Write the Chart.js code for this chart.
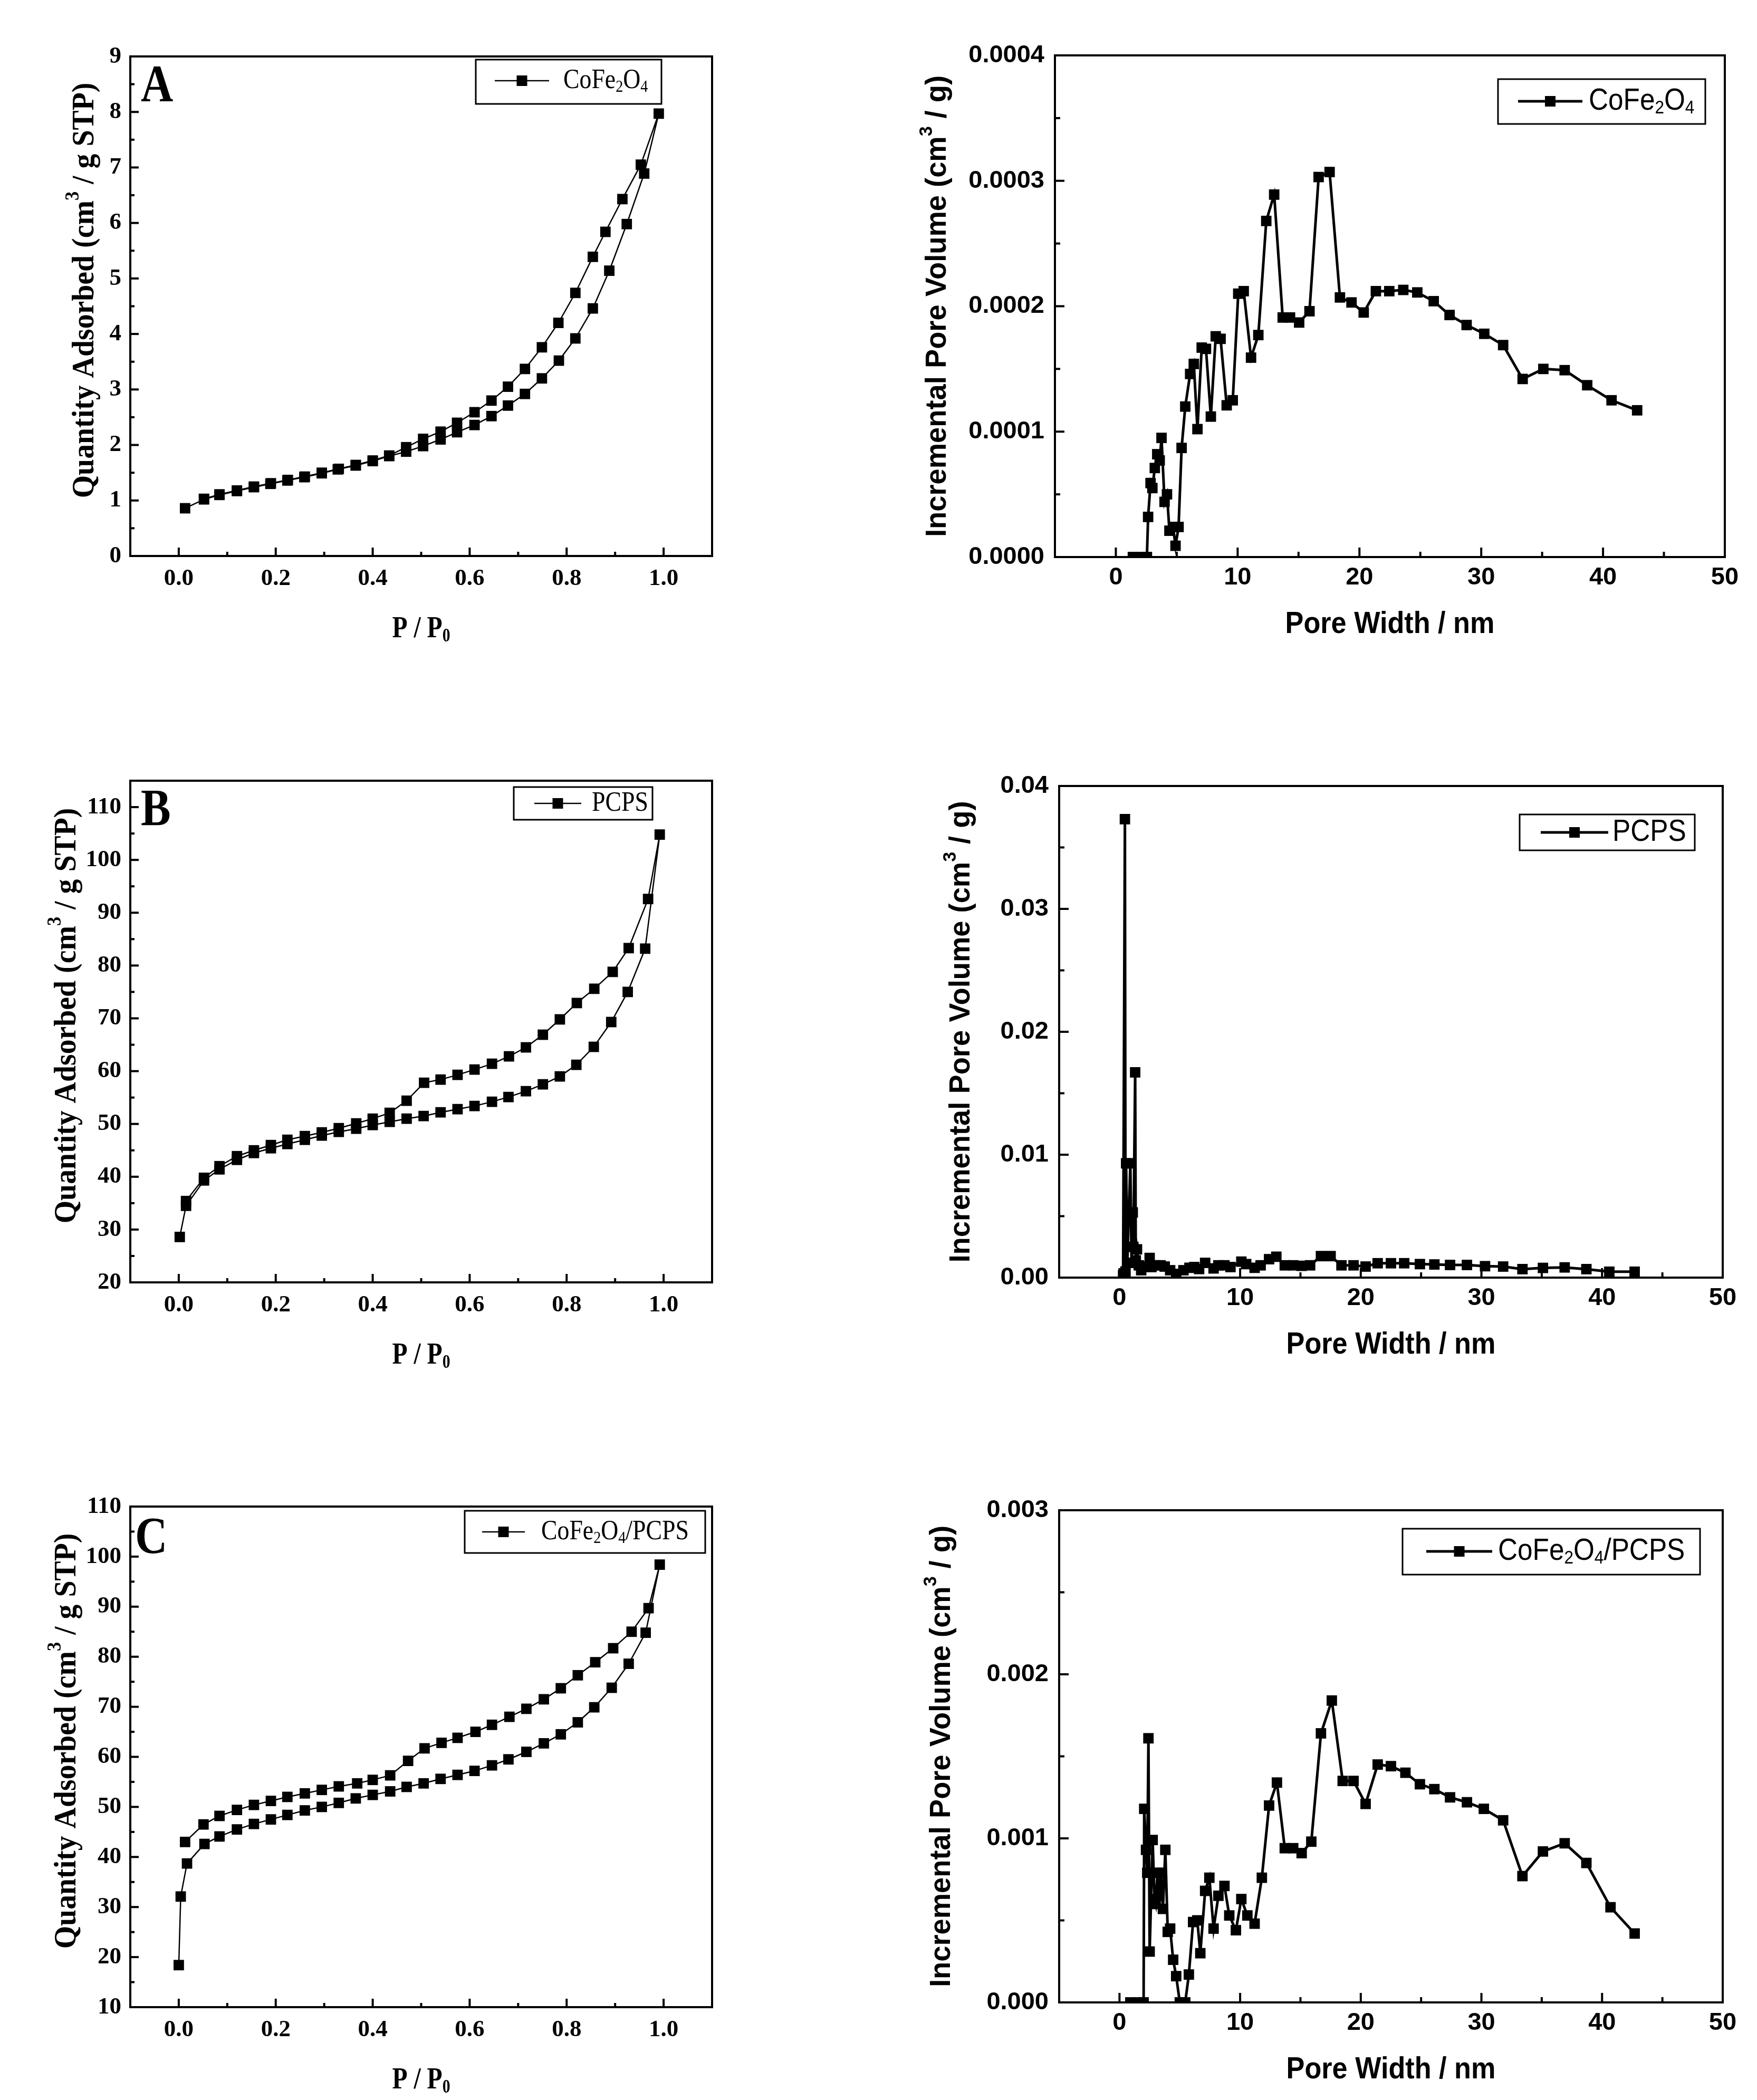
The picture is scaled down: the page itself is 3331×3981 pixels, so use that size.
<!DOCTYPE html>
<html>
<head>
<meta charset="utf-8">
<script src="https://cdn.jsdelivr.net/npm/chart.js@4.4.1/dist/chart.umd.min.js"></script>
<style>
html, body { margin: 0; padding: 0; background: #fff; }
#page { position: relative; width: 3331px; height: 3981px; background: #fff; }
canvas { position: absolute; }
</style>
</head>
<body>
<div id="page"></div>
<script>
// ---- isotherms: P/P0 vs quantity adsorbed (cm3/g STP) ----
// adsorption branch going up, desorption branch coming back down
const aAdsP = [0.013, 0.052, 0.084, 0.12, 0.155, 0.189, 0.224, 0.259, 0.295, 0.328, 0.365, 0.40, 0.434, 0.469, 0.504, 0.54, 0.574, 0.61, 0.645, 0.679, 0.714, 0.749, 0.784, 0.818, 0.854, 0.888, 0.924, 0.96, 0.99];
const aAdsQ = [0.86, 1.02, 1.10, 1.17, 1.24, 1.30, 1.36, 1.42, 1.49, 1.56, 1.63, 1.71, 1.80, 1.88, 1.98, 2.10, 2.23, 2.36, 2.52, 2.71, 2.92, 3.20, 3.52, 3.92, 4.46, 5.14, 5.98, 6.89, 7.97];
const aDesP = [0.953, 0.915, 0.88, 0.854, 0.818, 0.783, 0.749, 0.714, 0.679, 0.645, 0.61, 0.574, 0.54, 0.504, 0.469, 0.434, 0.40, 0.365, 0.33, 0.295, 0.26, 0.225, 0.19, 0.155, 0.12, 0.084, 0.052];
const aDesQ = [7.05, 6.43, 5.84, 5.39, 4.74, 4.20, 3.76, 3.37, 3.05, 2.80, 2.59, 2.40, 2.24, 2.11, 1.96, 1.81, 1.72, 1.64, 1.57, 1.50, 1.43, 1.37, 1.31, 1.25, 1.18, 1.11, 1.03];

const bAdsP = [0.002, 0.015, 0.052, 0.084, 0.12, 0.155, 0.19, 0.224, 0.26, 0.295, 0.33, 0.366, 0.40, 0.435, 0.47, 0.505, 0.54, 0.575, 0.61, 0.646, 0.68, 0.716, 0.751, 0.786, 0.82, 0.856, 0.892, 0.926, 0.962, 0.992];
const bAdsQ = [28.6, 34.5, 39.3, 41.4, 43.2, 44.5, 45.4, 46.2, 47.0, 47.8, 48.5, 49.1, 49.8, 50.4, 51.0, 51.5, 52.2, 52.8, 53.4, 54.2, 55.1, 56.2, 57.5, 59.0, 61.2, 64.6, 69.3, 75.0, 83.2, 104.8];
const bDesP = [0.968, 0.928, 0.895, 0.857, 0.821, 0.786, 0.751, 0.716, 0.681, 0.646, 0.61, 0.575, 0.54, 0.506, 0.47, 0.435, 0.40, 0.366, 0.33, 0.295, 0.26, 0.224, 0.19, 0.155, 0.12, 0.084, 0.052, 0.015];
const bDesQ = [92.6, 83.3, 78.8, 75.6, 72.9, 69.8, 66.9, 64.5, 62.8, 61.4, 60.3, 59.3, 58.4, 57.8, 54.4, 52.1, 51.0, 50.1, 49.2, 48.4, 47.7, 47.0, 46.0, 45.0, 43.9, 42.0, 39.8, 35.4];

const cAdsP = [0.0, 0.004, 0.017, 0.053, 0.084, 0.12, 0.155, 0.19, 0.224, 0.26, 0.295, 0.33, 0.365, 0.40, 0.436, 0.47, 0.505, 0.54, 0.575, 0.61, 0.646, 0.68, 0.717, 0.753, 0.788, 0.823, 0.857, 0.893, 0.928, 0.963, 0.992];
const cAdsQ = [18.4, 32.1, 38.7, 42.6, 44.1, 45.5, 46.6, 47.5, 48.4, 49.3, 50.0, 50.8, 51.7, 52.4, 53.1, 54.0, 54.7, 55.6, 56.4, 57.2, 58.3, 59.5, 61.0, 62.7, 64.5, 66.9, 69.9, 73.8, 78.6, 84.8, 98.4];
const cDesP = [0.969, 0.934, 0.896, 0.859, 0.823, 0.788, 0.753, 0.717, 0.682, 0.646, 0.612, 0.575, 0.542, 0.507, 0.473, 0.436, 0.40, 0.368, 0.33, 0.295, 0.26, 0.224, 0.19, 0.155, 0.12, 0.084, 0.051, 0.013];
const cDesQ = [89.7, 85.0, 81.7, 78.9, 76.3, 73.7, 71.5, 69.6, 68.0, 66.4, 65.0, 63.8, 62.8, 61.7, 59.2, 56.3, 55.4, 54.7, 54.1, 53.4, 52.7, 52.0, 51.2, 50.4, 49.4, 48.2, 46.5, 43.0];

// ---- pore size distributions: pore width (nm) vs incremental pore volume (cm3/g) ----
const aWidth = [1.4, 2.0, 2.55, 2.65, 2.85, 3.0, 3.2, 3.4, 3.6, 3.75, 4.0, 4.2, 4.4, 4.7, 4.9, 5.15, 5.4, 5.7, 6.1, 6.4, 6.7, 7.05, 7.4, 7.8, 8.2, 8.6, 9.1, 9.6, 10.05, 10.5, 11.1, 11.7, 12.35, 13.0, 13.7, 14.3, 15.05, 15.9, 16.65, 17.55, 18.4, 19.35, 20.35, 21.35, 22.45, 23.6, 24.75, 26.1, 27.4, 28.8, 30.25, 31.8, 33.4, 35.1, 36.85, 38.7, 40.7, 42.8];
const aVol = [0, 0, 0, 0.000032, 0.000059, 0.000055, 0.000071, 0.000082, 0.000077, 0.000095, 0.000044, 0.000050, 0.000021, 0.000024, 0.000009, 0.000024, 0.000087, 0.000120, 0.000146, 0.000154, 0.000102, 0.000167, 0.000166, 0.000112, 0.000176, 0.000174, 0.000121, 0.000125, 0.000210, 0.000212, 0.000159, 0.000177, 0.000268, 0.000289, 0.000191, 0.000191, 0.000187, 0.000196, 0.000303, 0.000307, 0.000207, 0.000203, 0.000195, 0.000212, 0.000212, 0.000213, 0.000211, 0.000204, 0.000193, 0.000185, 0.000178, 0.000169, 0.000142, 0.000150, 0.000149, 0.000137, 0.000125, 0.000117];

const bWidth = [0.3, 0.45, 0.5, 0.55, 0.65, 0.9, 0.95, 1.0, 1.1, 1.15, 1.3, 1.35, 1.45, 1.6, 1.8, 2.1, 2.5, 2.65, 3.0, 3.4, 3.75, 4.2, 4.7, 5.3, 5.8, 6.2, 6.6, 7.1, 7.8, 8.2, 8.7, 9.2, 10.1, 10.5, 11.2, 11.7, 12.4, 13.0, 13.7, 14.4, 15.1, 15.8, 16.7, 17.5, 18.4, 19.4, 20.4, 21.4, 22.5, 23.6, 24.9, 26.1, 27.4, 28.8, 30.3, 31.8, 33.4, 35.1, 36.9, 38.7, 40.6, 42.7];
const bVol = [0.0002, 0.0373, 0.0005, 0.0093, 0.0012, 0.0093, 0.0053, 0.0012, 0.0053, 0.0025, 0.0167, 0.0014, 0.0023, 0.0010, 0.0006, 0.0009, 0.0016, 0.00086, 0.0010, 0.0010, 0.0009, 0.0006, 0.0003, 0.0006, 0.0008, 0.00086, 0.0007, 0.0012, 0.00075, 0.0010, 0.0010, 0.00086, 0.0013, 0.0011, 0.0008, 0.0010, 0.0015, 0.0017, 0.0010, 0.0010, 0.00096, 0.0010, 0.00175, 0.00175, 0.0010, 0.0010, 0.0009, 0.00117, 0.00117, 0.00117, 0.0011, 0.00107, 0.00103, 0.00103, 0.00093, 0.0009, 0.00069, 0.00079, 0.00083, 0.00069, 0.00048, 0.00048];

const cWidth = [0.9, 1.45, 2.0, 2.05, 2.2, 2.3, 2.4, 2.5, 2.75, 2.9, 3.0, 3.15, 3.3, 3.45, 3.6, 3.8, 4.0, 4.2, 4.45, 4.7, 5.0, 5.45, 5.75, 6.1, 6.45, 6.7, 7.1, 7.45, 7.8, 8.2, 8.7, 9.1, 9.65, 10.1, 10.6, 11.2, 11.8, 12.4, 13.05, 13.7, 14.4, 15.1, 15.9, 16.7, 17.6, 18.5, 19.4, 20.4, 21.4, 22.5, 23.7, 24.9, 26.1, 27.4, 28.8, 30.2, 31.8, 33.4, 35.1, 36.9, 38.7, 40.7, 42.7];
const cVol = [0, 0, 0, 0.00118, 0.00093, 0.00079, 0.00161, 0.00031, 0.00099, 0.00063, 0.00060, 0.00079, 0.00065, 0.00079, 0.00057, 0.00093, 0.00043, 0.00045, 0.00026, 0.00016, 0, 0, 0.00017, 0.00049, 0.00050, 0.00030, 0.00068, 0.00076, 0.00045, 0.00065, 0.00071, 0.00053, 0.00044, 0.00063, 0.00053, 0.00048, 0.00076, 0.00120, 0.00134, 0.00094, 0.00094, 0.00091, 0.00098, 0.00164, 0.00184, 0.00135, 0.00135, 0.00121, 0.00145, 0.00144, 0.00140, 0.00133, 0.00130, 0.00125, 0.00122, 0.00118, 0.00111, 0.00077, 0.00092, 0.00097, 0.00085, 0.00058, 0.00042];

// ---- tick labels ----
const pTicks = [0, 0.2, 0.4, 0.6, 0.8, 1.0];
const qTicksA = [0, 1, 2, 3, 4, 5, 6, 7, 8, 9];
const qTicksB = [20, 30, 40, 50, 60, 70, 80, 90, 100, 110];
const qTicksC = [10, 20, 30, 40, 50, 60, 70, 80, 90, 100, 110];
const wTicks = [0, 10, 20, 30, 40, 50];
const vTicksA = [0, 0.0001, 0.0002, 0.0003, 0.0004];
const vTicksB = [0, 0.01, 0.02, 0.03, 0.04];
const vTicksC = [0, 0.001, 0.002, 0.003];

const SERIF = "'Liberation Serif', 'Times New Roman', serif";
const SANS = "'Liberation Sans', Arial, sans-serif";

// narrow sans for the pore-volume tick labels, if it is installed
function hasFont(name) {
  const c = document.createElement('canvas').getContext('2d');
  c.font = '40px monospace';
  const w0 = c.measureText('0.0004 Width').width;
  c.font = "40px '" + name + "', monospace";
  return c.measureText('0.0004 Width').width !== w0;
}
const NARROW = hasFont('Liberation Sans Narrow');
const PSD_TICK = NARROW ? { family: "'Liberation Sans Narrow', " + SANS, size: 55, weight: 'bold' }
                        : { family: SANS, size: 47, weight: 'bold' };

const page = document.getElementById('page');

// text with sub / superscripts: parts = [[text, ''|'sub'|'sup'], ...]
function drawRich(ctx, parts, f, x, y) {
  ctx.save();
  ctx.translate(x, y);
  if (f.rot) ctx.rotate(f.rot);
  ctx.scale(f.sx || 1, f.sy || 1);
  if (f.spacing) ctx.letterSpacing = f.spacing + 'px';
  const runs = parts.map(([t, m]) => {
    const s = m ? Math.round(f.size * 0.62) : f.size;
    const dy = m === 'sub' ? f.size * 0.24 : (m === 'sup' ? -f.size * 0.36 : 0);
    return { t, font: (f.weight || 'normal') + ' ' + s + 'px ' + f.family, dy };
  });
  let w = 0;
  runs.forEach(r => { ctx.font = r.font; r.w = ctx.measureText(r.t).width; w += r.w; });
  let cx = f.align === 'left' ? 0 : -w / 2;
  ctx.fillStyle = '#000';
  ctx.textAlign = 'left';
  ctx.textBaseline = 'middle';
  runs.forEach(r => { ctx.font = r.font; ctx.fillText(r.t, cx, r.dy); cx += r.w; });
  ctx.restore();
}

function mids(arr) {
  const out = [];
  for (let i = 0; i < arr.length - 1; i++) out.push((arr[i] + arr[i + 1]) / 2);
  return out;
}

// frame, inward ticks, titles, legend box, panel letter
const decor = {
  id: 'decor',
  afterDraw(chart, args, o) {
    const ctx = chart.ctx, a = chart.chartArea;
    const xs = chart.scales.x, ys = chart.scales.y;
    const ox = o.canvasX, oy = o.canvasY;
    ctx.save();
    ctx.strokeStyle = '#000';
    ctx.lineCap = 'butt';
    ctx.lineWidth = 4;
    o.xTicks.forEach(v => {
      const px = xs.getPixelForValue(v);
      ctx.beginPath(); ctx.moveTo(px, a.bottom); ctx.lineTo(px, a.bottom - o.major); ctx.stroke();
    });
    mids(o.xTicks).forEach(v => {
      const px = xs.getPixelForValue(v);
      ctx.beginPath(); ctx.moveTo(px, a.bottom); ctx.lineTo(px, a.bottom - o.minor); ctx.stroke();
    });
    o.yTicks.forEach(v => {
      const py = ys.getPixelForValue(v);
      ctx.beginPath(); ctx.moveTo(a.left, py); ctx.lineTo(a.left + o.major, py); ctx.stroke();
    });
    const ym = mids(o.yTicks);
    if (o.yTopMinor) ym.push(o.yTopMinor);
    ym.forEach(v => {
      const py = ys.getPixelForValue(v);
      ctx.beginPath(); ctx.moveTo(a.left, py); ctx.lineTo(a.left + o.minor, py); ctx.stroke();
    });
    ctx.lineWidth = 4;
    ctx.strokeRect(a.left, a.top, a.right - a.left, a.bottom - a.top);

    // axis titles
    drawRich(ctx, o.xTitle, o.xFont, (a.left + a.right) / 2, a.bottom + o.xTitleDy);
    drawRich(ctx, o.yTitle, Object.assign({ rot: -Math.PI / 2 }, o.yFont), a.left - o.yTitleDx, (a.top + a.bottom) / 2 + o.yTitleShift);

    // legend
    const lg = o.legend;
    ctx.lineWidth = 3;
    ctx.strokeRect(lg.box[0] - ox, lg.box[1] - oy, lg.box[2] - lg.box[0], lg.box[3] - lg.box[1]);
    ctx.lineWidth = o.lineWidth;
    ctx.beginPath(); ctx.moveTo(lg.line[0] - ox, lg.cy - oy); ctx.lineTo(lg.line[1] - ox, lg.cy - oy); ctx.stroke();
    const ms = o.marker;
    ctx.fillStyle = '#000';
    ctx.fillRect((lg.line[0] + lg.line[1]) / 2 - ox - ms / 2, lg.cy - oy - ms / 2, ms, ms);
    drawRich(ctx, lg.text, Object.assign({ align: 'left' }, lg.font), lg.textX - ox, lg.cy - oy);

    if (o.letter) {
      ctx.fillStyle = '#000';
      ctx.font = 'bold 100px ' + SERIF;
      ctx.textBaseline = 'alphabetic';
      ctx.textAlign = 'left';
      ctx.save();
      ctx.translate(o.letter[1] - ox, o.letter[2] - oy);
      ctx.scale(0.85, 1);
      ctx.fillText(o.letter[0], 0, 0);
      ctx.restore();
    }
    ctx.restore();
  }
};

function pts(xa, ya) { return xa.map((x, i) => ({ x, y: ya[i] })); }

function makePanel(p) {
  const cv = document.createElement('canvas');
  cv.width = p.w; cv.height = p.h;
  cv.style.left = p.x + 'px'; cv.style.top = p.y + 'px';
  cv.style.width = p.w + 'px'; cv.style.height = p.h + 'px';
  page.appendChild(cv);
  const [L, T, R, B] = p.plot;
  const tickFont = p.iso ? { family: SERIF, size: 45, weight: 'bold' } : PSD_TICK;
  new Chart(cv, {
    type: 'scatter',
    data: {
      datasets: [{
        data: p.data,
        showLine: true,
        borderColor: '#000',
        borderWidth: p.iso ? 2.5 : 5,
        pointStyle: 'rect',
        pointRadius: 14,
        pointBackgroundColor: '#000',
        pointBorderColor: '#000',
        pointBorderWidth: 0,
        tension: 0
      }]
    },
    options: {
      responsive: false,
      animation: false,
      devicePixelRatio: 1,
      layout: { padding: { left: 0, top: T - p.y, right: p.x + p.w - R, bottom: 0 } },
      plugins: {
        legend: { display: false },
        tooltip: { enabled: false },
        decor: Object.assign({ canvasX: p.x, canvasY: p.y }, p.decor)
      },
      scales: {
        x: {
          type: 'linear', min: p.xMin, max: p.xMax,
          afterBuildTicks: s => { s.ticks = p.decor.xTicks.map(v => ({ value: v })); },
          afterFit: s => { s.height = p.y + p.h - B; },
          grid: { display: false, drawTicks: false },
          border: { display: false },
          ticks: {
            autoSkip: false, maxRotation: 0, color: '#000', font: tickFont,
            padding: p.iso ? 16 : 11,
            callback: p.xFmt
          }
        },
        y: {
          type: 'linear', min: p.yMin, max: p.yMax,
          afterBuildTicks: s => { s.ticks = p.decor.yTicks.map(v => ({ value: v })); },
          afterFit: s => { s.width = L - p.x; },
          grid: { display: false, drawTicks: false },
          border: { display: false },
          ticks: {
            autoSkip: false, color: '#000', font: tickFont,
            padding: p.iso ? 17 : 20,
            callback: p.yFmt
          }
        }
      }
    },
    plugins: [decor]
  });
}

const pp0 = [['P / P', ''], ['0', 'sub']];
const qTitle = [['Quantity Adsorbed (cm', ''], ['3', 'sup'], [' / g STP)', '']];
const wTitle = [['Pore Width / nm', '']];
const vTitle = [['Incremental Pore Volume (cm', ''], ['3', 'sup'], [' / g)', '']];
const cofe = [['CoFe', ''], ['2', 'sub'], ['O', ''], ['4', 'sub']];
const pcps = [['PCPS', '']];
const composite = [['CoFe', ''], ['2', 'sub'], ['O', ''], ['4', 'sub'], ['/PCPS', '']];

const isoX = { family: SERIF, size: 56, weight: 'bold', sx: 0.85 };
const isoY = { family: SERIF, size: 60, weight: 'bold', sx: 0.93 };
const psdX = { family: SANS, size: 58, weight: 'bold', sx: 0.9 };
const psdY = { family: SANS, size: 56, weight: 'bold', sx: 0.97 };
const isoLeg = { family: SERIF, size: 52, sx: 0.88 };
const psdLeg = { family: SANS, size: 57, sx: 0.9 };

function isoDecor(extra) {
  return Object.assign({
    xTicks: pTicks, major: 16, minor: 8, lineWidth: 2.5, marker: 20,
    xTitle: pp0, xFont: isoX, xTitleDy: 140,
    yTitle: qTitle, yFont: isoY, yTitleShift: -30
  }, extra);
}
function psdDecor(extra) {
  return Object.assign({
    xTicks: wTicks, major: 18, minor: 10, lineWidth: 5, marker: 20,
    xTitle: wTitle, xFont: psdX, xTitleDy: 128,
    yTitle: vTitle, yFont: psdY, yTitleShift: 0
  }, extra);
}

const fmtP = v => v.toFixed(1);
const fmtInt = v => String(v);

makePanel({
  iso: true, x: 0, y: 0, w: 1660, h: 1320, plot: [247, 107, 1350, 1054],
  xMin: -0.1, xMax: 1.1, yMin: 0, yMax: 9, xFmt: fmtP, yFmt: fmtInt,
  data: pts(aAdsP, aAdsQ).concat(pts(aDesP, aDesQ)),
  decor: isoDecor({
    yTicks: qTicksA, yTitleDx: 86, letter: ['A', 267, 192],
    legend: { box: [902, 113, 1254, 197], line: [938, 1041], cy: 153, textX: 1068, text: cofe, font: isoLeg }
  })
});
makePanel({
  iso: true, x: 0, y: 1320, w: 1660, h: 1380, plot: [247, 1480, 1350, 2431],
  xMin: -0.1, xMax: 1.1, yMin: 20, yMax: 115, xFmt: fmtP, yFmt: fmtInt,
  data: pts(bAdsP, bAdsQ).concat(pts(bDesP, bDesQ)),
  decor: isoDecor({
    yTicks: qTicksB, yTopMinor: 115, yTitleDx: 120, letter: ['B', 267, 1564],
    legend: { box: [974, 1492, 1237, 1554], line: [1013, 1102], cy: 1523, textX: 1122, text: pcps, font: isoLeg }
  })
});
makePanel({
  iso: true, x: 0, y: 2700, w: 1660, h: 1281, plot: [247, 2856, 1350, 3805],
  xMin: -0.1, xMax: 1.1, yMin: 10, yMax: 110, xFmt: fmtP, yFmt: fmtInt,
  data: pts(cAdsP, cAdsQ).concat(pts(cDesP, cDesQ)),
  decor: isoDecor({
    yTicks: qTicksC, yTitleDx: 120, letter: ['C', 256, 2944],
    legend: { box: [881, 2864, 1337, 2944], line: [914, 995], cy: 2904, textX: 1026, text: composite, font: isoLeg }
  })
});

makePanel({
  iso: false, x: 1660, y: 0, w: 1671, h: 1320, plot: [2000, 105, 3270, 1056],
  xMin: -5, xMax: 50, yMin: 0, yMax: 0.0004, xFmt: fmtInt, yFmt: v => v.toFixed(4),
  data: pts(aWidth, aVol),
  decor: psdDecor({
    yTicks: vTicksA, yTitleDx: 222,
    legend: { box: [2840, 150, 3233, 235], line: [2878, 3000], cy: 192, textX: 3012, text: cofe, font: psdLeg }
  })
});
makePanel({
  iso: false, x: 1660, y: 1320, w: 1671, h: 1380, plot: [2008, 1490, 3266, 2422],
  xMin: -5, xMax: 50, yMin: 0, yMax: 0.04, xFmt: fmtInt, yFmt: v => v.toFixed(2),
  data: pts(bWidth, bVol),
  decor: psdDecor({
    yTicks: vTicksB, yTitleDx: 185,
    legend: { box: [2881, 1544, 3213, 1612], line: [2921, 3049], cy: 1578, textX: 3057, text: pcps, font: psdLeg }
  })
});
makePanel({
  iso: false, x: 1660, y: 2700, w: 1671, h: 1281, plot: [2008, 2863, 3266, 3796],
  xMin: -5, xMax: 50, yMin: 0, yMax: 0.003, xFmt: fmtInt, yFmt: v => v.toFixed(3),
  data: pts(cWidth, cVol),
  decor: psdDecor({
    yTicks: vTicksC, yTitleDx: 222,
    legend: { box: [2659, 2898, 3223, 2985], line: [2704, 2829], cy: 2941, textX: 2840, text: composite, font: psdLeg }
  })
});
</script>
</body>
</html>
